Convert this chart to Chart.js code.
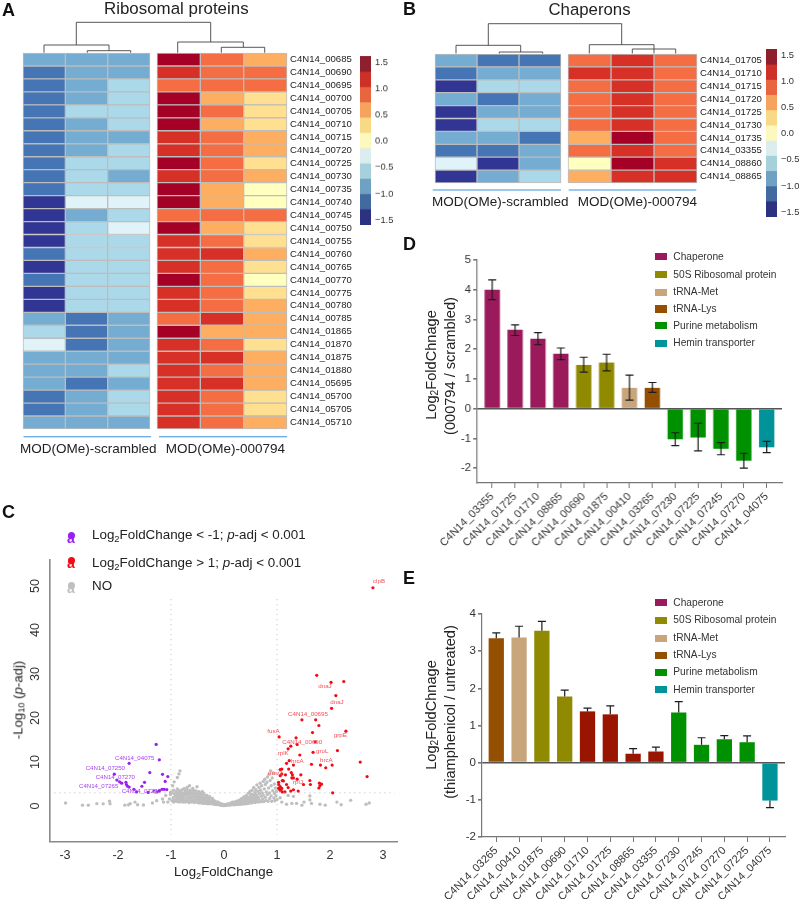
<!DOCTYPE html>
<html><head><meta charset="utf-8">
<script src="https://cdn.jsdelivr.net/npm/chart.js@4"></script>
<style>
html,body{margin:0;padding:0;background:#fff;width:800px;height:899px;overflow:hidden}
#page{position:relative;width:800px;height:899px;font-family:"Liberation Sans",Arial,sans-serif;color:#222}
canvas{display:block}
.w{position:absolute}
.t{position:absolute;white-space:nowrap;line-height:1}
sub{font-size:70%;line-height:0;vertical-align:-0.25em}
svg{position:absolute;left:0;top:0}
</style></head><body><div id="page"></div>
<script>
/* ---------- heat maps ---------- */
const riboGenes=["C4N14_00685","C4N14_00690","C4N14_00695","C4N14_00700","C4N14_00705","C4N14_00710","C4N14_00715","C4N14_00720","C4N14_00725","C4N14_00730","C4N14_00735","C4N14_00740","C4N14_00745","C4N14_00750","C4N14_00755","C4N14_00760","C4N14_00765","C4N14_00770","C4N14_00775","C4N14_00780","C4N14_00785","C4N14_01865","C4N14_01870","C4N14_01875","C4N14_01880","C4N14_05695","C4N14_05700","C4N14_05705","C4N14_05710"];
const riboScr1=[-.85,-1.15,-1.15,-1.15,-1.15,-1.15,-1.15,-1.15,-1.15,-1.15,-1.15,-1.45,-1.45,-1.45,-1.45,-1.15,-1.45,-1.15,-1.45,-1.45,-.85,-.55,-.3,-.85,-.85,-.85,-1.15,-1.15,-.85];
const riboScr2=[-.85,-.85,-.85,-.85,-.55,-.85,-.85,-.85,-.55,-.55,-.55,-.3,-.85,-.55,-.55,-.55,-.55,-.55,-.55,-.55,-1.15,-1.15,-1.15,-.85,-.85,-1.15,-.85,-.85,-.85];
const riboScr3=[-.85,-.85,-.55,-.55,-.55,-.55,-.85,-.55,-.55,-.85,-.55,-.3,-.55,-.3,-.55,-.55,-.55,-.55,-.55,-.55,-.85,-.85,-.85,-.85,-.55,-.85,-.55,-.55,-.85];
const riboMod1=[1.45,1.15,.85,1.45,1.45,1.45,1.15,1.15,1.45,1.15,1.45,1.45,.85,1.45,1.15,1.15,1.15,1.45,1.15,1.15,.85,1.45,1.15,1.15,1.15,1.15,1.15,1.15,1.15];
const riboMod2=[.85,.85,.85,.6,.85,.6,.85,.85,.85,.85,.6,.6,.85,.6,.85,1.15,.85,.85,.85,.85,1.15,.6,.85,1.15,.85,1.15,.85,.85,.85];
const riboMod3=[.6,.85,.85,.3,.3,.3,.6,.6,.3,.6,0,0,.85,.3,.3,.6,.3,0,.3,.6,.6,.6,.3,.6,.6,.6,.3,.3,.6];
const chapGenes=["C4N14_01705","C4N14_01710","C4N14_01715","C4N14_01720","C4N14_01725","C4N14_01730","C4N14_01735","C4N14_03355","C4N14_08860","C4N14_08865"];
const chapScr1=[-.85,-1.15,-1.45,-.85,-1.45,-1.45,-.85,-1.15,-.3,-1.45];
const chapScr2=[-1.15,-.85,-.55,-1.15,-.85,-.55,-.85,-1.15,-1.45,-.85];
const chapScr3=[-1.15,-.85,-.55,-.85,-.85,-.55,-1.15,-.85,-.85,-.55];
const chapMod1=[.85,1.15,.85,.85,.85,.85,.6,.85,0,.6];
const chapMod2=[1.15,1.15,1.15,1.15,1.15,1.15,1.45,1.15,1.45,1.15];
const chapMod3=[.85,.85,.85,.85,.85,.85,.85,.85,1.15,1.15];
const heatBreaks=[-1.59,-1.30,-1.01,-.72,-.43,-.14,.15,.44,.73,1.02,1.31,1.614];
const cellPalette=["#313695","#4575B4","#74ADD1","#ABD9E9","#E0F3F8","#FFFFBF","#FEE090","#FDAE61","#F46D43","#D73027","#A50026"];
const barPalette=["#2c3182","#426a9f","#6fa1c3","#a5d0dc","#dcedef","#fdf8bd","#f8d985","#f5a35d","#e8663f","#cd3027","#8e1f2c"];
const heatTicks=[-1.5,-1,-.5,0,.5,1,1.5];
/* ---------- bar panels ---------- */
const classNames=["Chaperone","50S Ribosomal protein","tRNA-Met","tRNA-Lys","Purine metabolism","Hemin transporter"];
const classColors=["#9a1a5c","#8f8a00","#c8a57b","#944f00","#009100","#00949a"];
const dGenes=["C4N14_03355","C4N14_01725","C4N14_01710","C4N14_08865","C4N14_00690","C4N14_01875","C4N14_00410","C4N14_03265","C4N14_07230","C4N14_07225","C4N14_07245","C4N14_07270","C4N14_04075"];
const dValues=[4.0,2.65,2.35,1.85,1.47,1.55,.7,.7,-1.03,-.97,-1.35,-1.75,-1.3];
const dErrHigh=[4.33,2.82,2.56,2.04,1.73,1.83,1.13,.88,-.81,-.49,-1.14,-1.5,-1.1];
const dErrLow=[3.67,2.46,2.15,1.65,1.23,1.27,.29,.55,-1.24,-1.42,-1.55,-2.0,-1.48];
const dColors=["#9a1a5c","#9a1a5c","#9a1a5c","#9a1a5c","#8f8a00","#8f8a00","#c8a57b","#944f00","#009100","#009100","#009100","#009100","#00949a"];
const dTicks=[-2,-1,0,1,2,3,4,5];
const eGenes=["C4N14_03265","C4N14_00410","C4N14_01875","C4N14_00690","C4N14_01710","C4N14_01725","C4N14_08865","C4N14_03355","C4N14_07230","C4N14_07245","C4N14_07270","C4N14_07225","C4N14_04075"];
const eValues=[3.35,3.37,3.55,1.78,1.38,1.3,.24,.3,1.35,.48,.63,.55,-1.02];
const eErrTip=[3.49,3.67,3.8,1.95,1.47,1.53,.38,.42,1.64,.67,.73,.72,-1.21];
const eColors=["#944f00","#c8a57b","#8f8a00","#8f8a00","#9a1500","#9a1500","#9a1500","#9a1500","#009100","#009100","#009100","#009100","#00949a"];
const eTicks=[-2,-1,0,1,2,3,4];
/* ---------- volcano ---------- */
const volXTicks=[-3,-2,-1,0,1,2,3];
const volYTicks=[0,10,20,30,40,50];
const upPoints=[[2.81,49.6],[1.75,29.7],[2.02,28.1],[2.26,28.3],[2.11,25.1],[2.03,22.2],[1.47,19.6],[1.73,19.6],[1.79,18.3],[1.67,16.7],[2.30,17.0],[1.04,15.7],[1.36,15.5],[1.72,14.6],[1.38,14.0],[1.26,13.6],[1.21,13.0],[2.14,12.6],[1.68,12.2],[1.43,11.6],[1.23,10.3],[1.18,9.7],[1.65,9.5],[1.82,9.3],[1.92,8.7],[2.04,9.3],[2.57,10.0],[2.70,6.7],[1.31,9.3],[1.09,8.4],[1.06,8.3],[1.22,8.4],[1.16,7.1],[1.27,7.6],[1.29,7.1],[1.09,7.3],[1.06,6.9],[1.28,6.4],[1.38,6.1],[1.45,7.1],[1.31,6.4],[1.03,5.4],[1.1,5.8],[1.12,5.7],[1.62,5.8],[1.5,4.9],[1.63,4.9],[1.8,5.2],[1.84,5.0],[1.81,4.6],[1.79,4.1],[1.03,4.9],[1.18,4.9],[1.21,4.2],[1.06,4.4],[1.06,3.6],[1.09,4.0],[1.15,3.2],[1.1,3.2],[1.26,3.4],[1.31,3.7],[1.4,3.4],[2.05,3.0],[1.03,4.0]];
const downPoints=[[-1.28,14.0],[-1.22,10.5],[-1.79,9.7],[-1.40,7.6],[-1.16,7.2],[-1.06,6.7],[-1.11,5.6],[-1.50,5.4],[-1.55,4.5],[-2.07,7.25],[-2.02,5.9],[-1.93,5.2],[-1.97,5.5],[-1.85,5.4],[-1.84,4.9],[-1.82,4.5],[-1.79,4.3],[-1.70,3.8],[-1.65,3.2],[-1.43,3.1],[-1.32,3.4],[-1.27,3.2],[-1.22,3.5],[-1.17,3.8],[-1.13,3.8],[-1.08,3.75],[-1.0,3.1]];
const grayWings=[[-2.99,.7],[-2.67,.2],[-2.56,.2],[-2.4,.55],[-2.28,.5],[-2.16,1.1],[-2.15,.5],[-1.87,.2],[-1.80,.3],[-1.77,.55],[-1.68,.9],[-1.63,.3],[-1.52,.25],[-1.35,.7],[-1.27,1.2],[-1.16,1.6],[-1.14,.9],[-1.3,3.1],[1.09,.9],[1.18,.4],[1.28,.6],[1.37,.6],[1.47,.2],[1.51,.9],[1.62,1.4],[1.62,2.3],[1.65,.6],[1.81,.4],[1.91,.2],[2.13,.9],[2.21,.3],[2.39,1.3],[2.68,.4],[2.74,.7],[1.31,2.2],[1.06,1.9],[1.21,2.4]];
const grayLeft=[[-.85,7.3],[-.83,8.0],[-.88,6.5],[-.94,5.5],[-.97,4.6],[-1.03,1.6],[-1.01,2.6],[-.99,3.1],[-.98,1.2],[-1.06,.9],[-1.1,2.4],[-.96,1.9],[-.95,.9],[-.94,2.8],[-.93,1.4],[-.95,3.6],[-.92,2.2],[-.91,1.1],[-.9,3.3],[-.89,1.7],[-.89,2.6],[-.88,3.9],[-.87,1.0],[-.87,2.1],[-.86,3.0],[-.85,1.4],[-.85,2.4],[-.84,3.5],[-.84,.9],[-.83,1.9],[-.83,2.8],[-.82,1.2],[-.81,3.2],[-.8,2.2],[-.8,1.0],[-.79,2.7],[-.79,3.7],[-.78,1.6],[-.77,.9],[-.77,2.0],[-.76,3.0],[-.75,4.0],[-.75,1.3],[-.74,2.5],[-.73,3.4],[-.73,.9],[-.72,1.8],[-.71,2.9],[-.7,1.1],[-.7,3.8],[-.69,2.3],[-.69,4.3],[-.68,1.5],[-.67,3.2],[-.66,.8],[-.66,2.7],[-.65,1.9],[-.65,4.6],[-.64,3.6],[-.63,1.2],[-.63,3.0],[-.62,2.2],[-.61,.9],[-.6,1.6],[-.6,2.7],[-.59,3.4],[-.59,4.0],[-.58,2.1],[-.57,1.2],[-.57,3.0],[-.56,.8],[-.55,2.4],[-.54,1.5],[-.54,3.5],[-.53,2.0],[-.52,1.0],[-.52,2.9],[-.51,4.4],[-.5,1.7],[-.5,.8],[-.49,2.3],[-.48,3.3],[-.48,1.2],[-.47,2.7],[-.46,.7],[-.46,1.9],[-.45,3.0],[-.44,1.4],[-.44,2.2],[-.43,.8],[-.42,2.6],[-.42,1.8],[-.41,3.3],[-.4,1.1],[-.4,.6],[-.39,2.0],[-.38,1.5],[-.38,2.8],[-.37,.8],[-.36,2.3],[-.35,1.2],[-.35,.6],[-.34,1.8],[-.33,.9],[-.32,2.4],[-.32,1.4],[-.31,.5],[-.3,1.1],[-.3,1.9],[-.29,.7],[-.28,1.5],[-.27,.5],[-.27,2.1],[-.26,1.0],[-.25,.6],[-.24,1.4],[-.23,.9],[-.22,.5],[-.22,1.7],[-.21,1.1],[-.2,.6],[-.19,.4],[-.19,1.3],[-.18,.8],[-.17,.5],[-.16,1.0],[-.15,.35],[-.14,.7],[-.13,.4],[-.12,.95],[-.11,.55],[-.1,.3],[-.09,.7],[-.08,.4],[-.07,.25],[-.06,.55],[-.05,.3],[-.04,.15],[-.03,.4],[-.02,.2],[-.01,.1]];
const grayRight=[[0,.25],[.01,.12],[.02,.3],[.03,.18],[.04,.35],[.05,.2],[.06,.4],[.07,.25],[.08,.5],[.09,.3],[.1,.55],[.11,.25],[.12,.4],[.13,.7],[.14,.3],[.15,.5],[.16,.85],[.17,.35],[.18,.6],[.19,.3],[.2,.95],[.21,.5],[.22,.35],[.23,.75],[.24,1.1],[.25,.45],[.26,.85],[.27,.35],[.28,1.3],[.29,.6],[.3,.95],[.31,.4],[.32,1.6],[.32,.7],[.33,1.2],[.34,.5],[.35,1.8],[.36,.9],[.37,.45],[.37,1.4],[.38,2.1],[.39,.65],[.4,1.1],[.41,1.7],[.42,.5],[.42,2.4],[.43,.85],[.44,1.4],[.45,2.0],[.46,.6],[.46,2.9],[.47,1.2],[.48,.8],[.48,1.7],[.49,3.3],[.5,2.3],[.51,.7],[.51,1.3],[.52,2.7],[.53,1.9],[.53,3.6],[.54,.8],[.55,1.5],[.56,2.5],[.56,4.2],[.57,1.0],[.58,3.1],[.58,2.0],[.59,.8],[.6,1.5],[.6,3.7],[.61,2.6],[.62,4.8],[.62,1.1],[.63,2.1],[.64,3.3],[.65,.9],[.65,1.7],[.66,4.2],[.67,2.8],[.68,5.2],[.68,1.2],[.69,3.6],[.7,2.2],[.7,1.0],[.71,4.6],[.72,3.0],[.73,1.6],[.74,5.6],[.74,2.5],[.75,1.0],[.76,3.9],[.77,6.1],[.78,2.0],[.78,4.9],[.79,1.3],[.8,3.2],[.81,5.4],[.82,2.6],[.82,6.6],[.83,1.1],[.84,4.1],[.85,7.2],[.86,3.0],[.86,1.7],[.87,5.8],[.88,8.0],[.89,2.3],[.89,4.6],[.9,1.1],[.91,6.4],[.92,3.5],[.93,7.5],[.94,1.8],[.95,5.0],[.95,2.9],[.96,1.2],[.97,4.1],[.98,2.3],[.99,3.3],[1.0,1.5]];

Chart.defaults.font.family='"Liberation Sans",Arial,sans-serif';
Chart.defaults.animation=false;
Chart.defaults.responsive=false;
Chart.defaults.plugins.legend.display=false;
Chart.defaults.plugins.tooltip.enabled=false;
const page=document.getElementById('page');
function mk(l,t,w,h){const d=document.createElement('div');d.className='w';d.style.cssText=`left:${l}px;top:${t}px;width:${w}px;height:${h}px`;const c=document.createElement('canvas');c.width=w;c.height=h;c.style.width=w+'px';c.style.height=h+'px';d.appendChild(c);page.appendChild(d);return c;}
function txt(html,l,cy,size,extra){const s=document.createElement('div');s.className='t';s.innerHTML=html;s.style.left=l+'px';s.style.top=cy+'px';s.style.fontSize=size+'px';s.style.transform='translateY(-50%)';if(extra)s.style.cssText+=extra;page.appendChild(s);return s;}
function vtxt(html,cx,cy,size){const s=document.createElement('div');s.className='t';s.innerHTML=html;s.style.left=cx+'px';s.style.top=cy+'px';s.style.fontSize=size+'px';s.style.transform='translate(-50%,-50%) rotate(-90deg)';page.appendChild(s);}
function bin(v){for(let i=0;i<11;i++){if(v<heatBreaks[i+1])return i;}return 10;}
const noPad=s=>{s.paddingTop=0;s.paddingBottom=0;};

function heatGroup(l,t,w,h,genes,cols,withLabels){
  const pad=2, axisW=withLabels?72:0;
  new Chart(mk(l-pad,t-pad,w+pad*2+axisW,h+pad*2),{type:'bar',
    data:{labels:genes,datasets:cols.map((c,i)=>({data:c.map(()=>[i,i+1]),backgroundColor:c.map(v=>cellPalette[bin(v)]),borderColor:'#bdbdbd',borderWidth:1,borderSkipped:false,grouped:false,barPercentage:1,categoryPercentage:1,clip:false}))},
    options:{indexAxis:'y',layout:{padding:{left:pad,top:pad,bottom:pad,right:withLabels?0:pad}},
      scales:{x:{type:'linear',min:0,max:3,display:false},
        y:{type:'category',position:'right',display:withLabels,grid:{display:false,drawTicks:false},border:{display:false},
           afterFit:s=>{s.width=axisW+pad;noPad(s);},
           ticks:{autoSkip:false,padding:3,color:'#222',font:{size:9.6}}}}}});
}
function colorBar(l,t,w,h){
  const axisW=36;
  new Chart(mk(l-2,t-8,w+axisW+4,h+16),{type:'bar',
    data:{labels:['z'],datasets:barPalette.map((c,i)=>({data:[[heatBreaks[i],heatBreaks[i+1]]],backgroundColor:c,grouped:false,barPercentage:1,categoryPercentage:1}))},
    options:{layout:{padding:{left:2,top:8,bottom:8,right:2}},
      scales:{x:{display:false},
        y:{position:'right',min:heatBreaks[0],max:heatBreaks[11],grid:{display:false,drawTicks:false},border:{display:false},
           afterFit:s=>{s.width=axisW;noPad(s);},afterBuildTicks:s=>{s.ticks=heatTicks.map(v=>({value:v}))},
           ticks:{padding:4,color:'#333',font:{size:9.3},callback:v=>(v<0?'\u2212':'')+Math.abs(v).toFixed(1)}}}}});
}
heatGroup(22.5,53,129.5,376,riboGenes,[riboScr1,riboScr2,riboScr3],false);
heatGroup(156.5,53,130,376,riboGenes,[riboMod1,riboMod2,riboMod3],true);
colorBar(360,56,11,168.7);
heatGroup(434.7,53.7,128.8,129,chapGenes,[chapScr1,chapScr2,chapScr3],false);
heatGroup(567.7,53.7,129,129,chapGenes,[chapMod1,chapMod2,chapMod3],true);
colorBar(766,49.3,11,168);

/* dendrograms and group rules */
const ns='http://www.w3.org/2000/svg';
const svg=document.createElementNS(ns,'svg');svg.setAttribute('width',800);svg.setAttribute('height',899);
function path(d,stroke,w){const p=document.createElementNS(ns,'path');p.setAttribute('d',d);p.setAttribute('fill','none');p.setAttribute('stroke',stroke);p.setAttribute('stroke-width',w);svg.appendChild(p);}
path('M76.3 45V22.3H210.7V42M44 52.7V45H109V50.7M87.3 52.7V50.7H130.7V52.7M177.7 52.7V42H243.3V47.3M221.3 52.7V47.3H264.7V52.7','#444',.9);
path('M488.3 45.3V23.7H621.7V44.7M456 53.5V45.3H520.7V52M499.3 53.5V52H542.7V53.5M589.3 53.5V44.7H654V53.5M632.3 53.5V49H675.7V53.5','#444',.9);
path('M23.5 436.7H151M159 436.7H287M432.7 190H561M568.7 190H696.3','#3b93dc',1.1);
page.appendChild(svg);

txt('A',2,10,18,'font-weight:bold;color:#111');txt('B',403,9,18,'font-weight:bold;color:#111');
txt('C',2,512,18,'font-weight:bold;color:#111');txt('D',403,244,18,'font-weight:bold;color:#111');txt('E',403,578,18,'font-weight:bold;color:#111');
txt('Ribosomal proteins',104,9,16.9);txt('Chaperons',548.5,10,16.8);
txt('MOD(OMe)-scrambled',20,449,13.5);txt('MOD(OMe)-000794',165.7,449,13.5);
txt('MOD(OMe)-scrambled',432,202,13.5);txt('MOD(OMe)-000794',577.7,202,13.5);

/* bar panels */
const errPlugin={id:'errBars',afterDatasetsDraw(ch,a,o){const g=ch.ctx,X=ch.scales.x,Y=ch.scales.y;g.save();g.strokeStyle='#1c1c1c';g.lineWidth=1.2;
  o.tip.forEach((hi,i)=>{const lo=o.low?o.low[i]:o.base[i],x=X.getPixelForValue(i),y1=Y.getPixelForValue(hi),y2=Y.getPixelForValue(lo);
    g.beginPath();g.moveTo(x,y1);g.lineTo(x,y2);g.moveTo(x-4,y1);g.lineTo(x+4,y1);if(o.low){g.moveTo(x-4,y2);g.lineTo(x+4,y2);}g.stroke();});g.restore();}};
function barPanel(cfg){
  const cl=cfg.l-75,ct=cfg.t-10,ch=cfg.b-ct+80,cw=cfg.r-cl+6;
  new Chart(mk(cl,ct,cw,ch),{type:'bar',plugins:[errPlugin],
   data:{datasets:[{data:cfg.values.map((v,i)=>({x:i,y:v})),backgroundColor:cfg.colors,barPercentage:.67,categoryPercentage:1}]},
   options:{layout:{padding:{top:10,right:6,left:0,bottom:0}},
    plugins:{errBars:cfg.err},
    scales:{
     x:{type:'linear',offset:false,min:cfg.xMin,max:cfg.xMax,grid:{offset:false,drawOnChartArea:false,tickColor:'#777',tickLength:5},border:{color:'#777',width:1.2},
        afterFit:s=>{s.height=80},afterBuildTicks:s=>{s.ticks=cfg.genes.map((_,i)=>({value:i}))},
        ticks:{autoSkip:false,minRotation:45,maxRotation:45,padding:2,color:'#333',font:{size:11},callback:v=>cfg.genes[v]}},
     y:{min:cfg.yMin,max:cfg.yMax,border:{color:'#777',width:1.2},
        grid:{color:c=>c.tick.value===0?'#555':'transparent',lineWidth:1.6,tickColor:'#777',tickLength:4},
        afterFit:s=>{s.width=75},afterBuildTicks:s=>{s.ticks=cfg.ticks.map(v=>({value:v}))},
        ticks:{padding:2,color:'#333',font:{size:11.5},callback:v=>String(v)}}}}});
}
barPanel({l:477.3,t:260,r:781.7,b:483.3,xMin:-.657,xMax:12.67,yMin:-2.5,yMax:5,genes:dGenes,values:dValues,colors:dColors,ticks:dTicks,err:{tip:dErrHigh,low:dErrLow}});
barPanel({l:481.7,t:613.7,r:785,b:836.7,xMin:-.626,xMax:12.66,yMin:-2,yMax:4,genes:eGenes,values:eValues,colors:eColors,ticks:eTicks,err:{tip:eErrTip,base:eValues}});
vtxt('Log<sub>2</sub>FoldChnage',431,365,14.6);vtxt('(000794 / scrambled)',450,366,14.6);
vtxt('Log<sub>2</sub>FoldChnage',431,715,14.6);vtxt('(thiamphenicol / untreated)',450,712,14.6);
function classLegend(ys){classNames.forEach((n,i)=>{const b=document.createElement('div');b.className='w';b.style.cssText=`left:655.3px;top:${ys[i]-3.7}px;width:11.3px;height:7.4px;background:${classColors[i]}`;page.appendChild(b);txt(n,673.3,ys[i],10.2,'color:#333');});}
classLegend([256.7,274.7,292.3,309,325.7,343.3]);
classLegend([602.7,620.3,638.3,655.3,672.3,689.7]);

/* volcano */
const xy=p=>({x:p[0],y:p[1]});
new Chart(mk(10,548,392,324),{type:'scatter',
 data:{datasets:[
  {data:[...grayWings,...grayLeft,...grayRight].map(xy),pointRadius:1.7,backgroundColor:'#bfbfbf',borderWidth:0},
  {data:[[-1,47],[-1,-6.5]].map(xy),showLine:true,pointRadius:0,borderColor:'#bbb',borderWidth:1,borderDash:[1,4]},
  {data:[[1,47],[1,-6.5]].map(xy),showLine:true,pointRadius:0,borderColor:'#bbb',borderWidth:1,borderDash:[1,4]},
  {data:[[-3.2,3],[3.22,3]].map(xy),showLine:true,pointRadius:0,borderColor:'#bbb',borderWidth:1,borderDash:[1,4]},
  {data:downPoints.map(xy),pointRadius:1.6,backgroundColor:'#9a20f0',borderWidth:0},
  {data:upPoints.map(xy),pointRadius:1.6,backgroundColor:'#f30a14',borderWidth:0}
 ]},
 options:{layout:{padding:{top:8.7,right:5,left:0,bottom:0}},
  scales:{
   x:{type:'linear',min:-3.283,max:3.264,grid:{display:false,tickColor:'#888',tickLength:3},border:{color:'#8a8a8a',width:1.6},
      afterFit:s=>{s.height=30.3},afterBuildTicks:s=>{s.ticks=volXTicks.map(v=>({value:v}))},
      ticks:{padding:3,color:'#333',font:{size:12.6},callback:v=>String(v),maxRotation:0}},
   y:{type:'linear',min:-8.1,max:56,grid:{display:false,tickColor:'#888',tickLength:3},border:{color:'#8a8a8a',width:1.6},
      afterFit:s=>{s.width=40},afterBuildTicks:s=>{s.ticks=volYTicks.map(v=>({value:v}))},
      ticks:{padding:4,color:'#333',font:{size:12.6},minRotation:90,maxRotation:90,crossAlign:'center',callback:v=>String(v)}}}}});
vtxt('-Log<sub>10</sub> (<i>p</i>-adj)',18,700,13.2);
txt('Log<sub>2</sub>FoldChange',174,872,13.2);
function legendMark(cy,c){const d=document.createElement('div');d.className='w';d.style.cssText=`left:67px;top:${cy-5.5}px;width:8px;height:11px`;d.innerHTML=`<div style="position:absolute;left:.5px;top:0;width:7px;height:7px;border-radius:50%;background:${c}"></div><div class="t" style="left:0;top:-1px;font-size:14px;font-weight:bold;color:${c}">a</div>`;page.appendChild(d);}
legendMark(537.3,'#9a20f0');legendMark(562.7,'#f30a14');legendMark(587.7,'#bfbfbf');
txt('Log<sub>2</sub>FoldChange &lt; -1; <i>p</i>-adj &lt; 0.001',92,535,13.4);
txt('Log<sub>2</sub>FoldChange &gt; 1; <i>p</i>-adj &lt; 0.001',92,563,13.4);
txt('NO',92,586,13.4);
[['C4N14_04075',115,757.7],['C4N14_07250',85.7,768.3],['C4N14_07270',95.7,777],['C4N14_07265',79,785.7],['C4N14_07230',121.7,791.3]].forEach(a=>txt(a[0],a[1],a[2],6.1,'color:#a63df2'));
[['dnaJ',318.3,686],['dnaJ',330.3,702.3],['C4N14_00695',288,713.7],['fusA',267.3,731.3],['grpE',333.7,735.3],['C4N14_00690',282.3,741.7],['rplK',277.7,753],['groL',316,751],['hrcA',291,761.3],['hrcA',320,760],['nusG',268,773.3],['rplJ',293,782.3],['clpB',373,580.7]].forEach(a=>txt(a[0],a[1],a[2],6.2,'color:#f2505a'));
</script></body></html>
